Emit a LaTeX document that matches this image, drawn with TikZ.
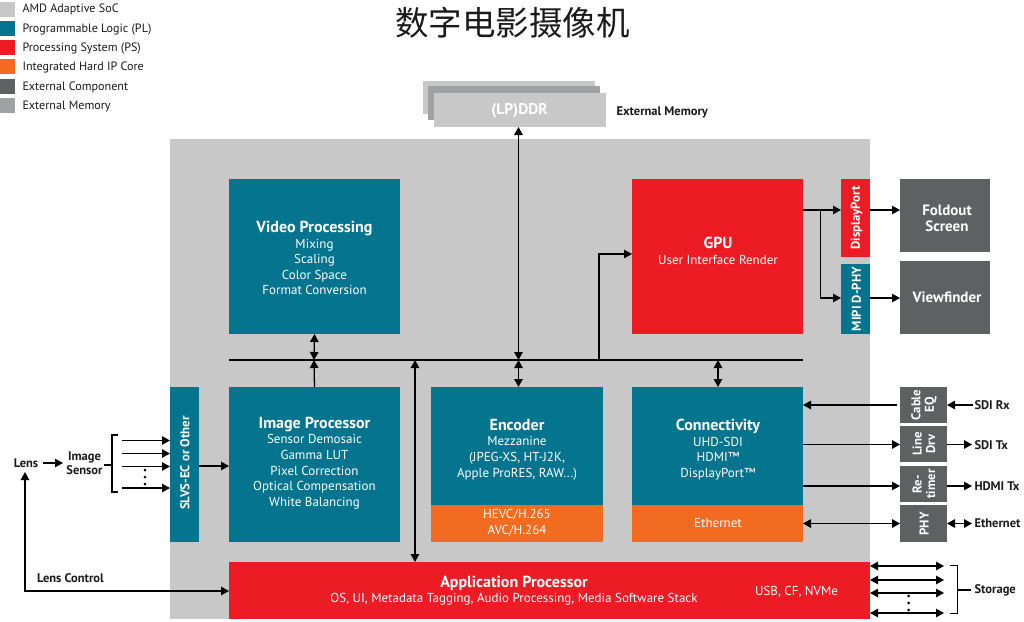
\documentclass[tikz,border=0pt]{standalone}
\usepackage{fontspec}
\setmainfont{PT Sans}
\newfontfamily\cjk{Noto Sans CJK SC}
\usetikzlibrary{arrows.meta}
\definecolor{socgray}{HTML}{C8C8C8}
\definecolor{plteal}{HTML}{05748F}
\definecolor{psred}{HTML}{ED1C24}
\definecolor{iporange}{HTML}{F26B21}
\definecolor{extdark}{HTML}{5F6062}
\definecolor{extmem}{HTML}{A0A1A3}
\definecolor{inktext}{HTML}{1A1A1A}
\tikzset{
  blk/.style={inner sep=0pt,outer sep=0pt,text=white,align=center,font=\fontsize{13}{15.6}\selectfont},
  lbl/.style={inner sep=0pt,outer sep=0pt,text=inktext,font=\fontsize{12.5}{13.5}\selectfont\bfseries,align=center},
  leg/.style={inner sep=0pt,outer sep=0pt,text=inktext,anchor=west,font=\fontsize{12.1}{14}\selectfont},
  sw/.style={inner sep=0pt,outer sep=0pt,minimum width=15pt,minimum height=15pt},
  vert/.style={rotate=90,font=\fontsize{12.8}{13.5}\selectfont\bfseries,text=white,align=center,inner sep=0pt},
  conn/.style={line width=1.3pt,draw=black,-{Triangle[length=8pt,width=8.5pt]}},
  bi/.style={line width=1.3pt,draw=black,{Triangle[length=8pt,width=8.5pt]}-{Triangle[length=8pt,width=8.5pt]}},
  wire/.style={line width=1.3pt,draw=black},
}
\newcommand{\blkbox}[7][]{\node[blk,fill=#6,minimum width={(#4-#2)*1pt},minimum height={(#5-#3)*1pt},#1] (#7) at ({(#2+#4)/2},{(#3+#5)/2}) {};}
\begin{document}
\begin{tikzpicture}[x=1pt,y=-1pt]
\useasboundingbox (0,0) rectangle (1024,621);
% legend
\foreach \n/\c/\t/\y/\ty in {a/socgray/AMD Adaptive SoC/9/9.5,b/plteal/Programmable Logic (PL)/28.5/29.5,c/psred/Processing System (PS)/47.5/48.5,d/iporange/Integrated Hard IP Core/66.5/67.5,e/extdark/External Component/86/87,f/extmem/External Memory/105/106.5}{
  \node[sw,fill=\c] (sw\n) at (7,\y) {};
  \node[leg] (lg\n) at (22.5,\ty) {\t};
}
\node[inner sep=0pt,text=inktext] (title) at (512.5,23) {\cjk\fontsize{33.5}{36}\selectfont 数字电影摄像机};
% SoC
\blkbox{170}{139}{870}{619}{socgray}{soc}
% memory
\blkbox{423}{81}{595}{114}{socgray}{mem3}
\blkbox{428}{86}{600}{120}{extmem}{mem2}
\blkbox{434}{93}{606}{127}{socgray}{ddr}
\node[font=\fontsize{15.5}{16}\selectfont\bfseries,text=white,inner sep=0pt] (ddrt) at (519.5,111) {(LP)DDR};
\node[lbl,anchor=west] (extm) at (616.5,112) {External Memory};
% blocks
\blkbox{229}{179}{400}{334}{plteal}{vp}
\node[blk] (vpt) at (314.5,258) {{\fontsize{16}{20}\selectfont\bfseries Video Processing}\\Mixing\\Scaling\\Color Space\\Format Conversion};
\blkbox{632}{179}{803}{334}{psred}{gpu}
\node[blk] (gput) at (718,251) {{\fontsize{16}{18}\selectfont\bfseries GPU}\\User Interface Render};
\blkbox{841}{179}{870}{257}{psred}{dp}
\node[vert] (dpt) at (856.5,218) {DisplayPort};
\blkbox{841}{264}{870}{334}{plteal}{mipi}
\node[vert] (mipit) at (856.5,299) {MIPI D-PHY};
\blkbox{900}{179}{990}{252}{extdark}{fold}
\node[blk,font=\fontsize{15}{16}\selectfont\bfseries] (foldt) at (947,218) {Foldout\\Screen};
\blkbox{900}{261}{990}{334}{extdark}{view}
\node[blk,font=\fontsize{15}{16}\selectfont\bfseries] (viewt) at (947,297) {Viewfinder};
\blkbox{170}{387}{199}{542}{plteal}{slvs}
\node[vert] (slvst) at (185,463) {SLVS-EC or Other};
\blkbox{229}{387}{400}{542}{plteal}{ip}
\node[blk] (ipt) at (314.5,463) {{\fontsize{16}{20}\selectfont\bfseries Image Processor}\\Sensor Demosaic\\Gamma LUT\\Pixel Correction\\Optical Compensation\\White Balancing};
\blkbox{431}{387}{603}{505}{plteal}{enc}
\node[blk] (enct) at (517,449.5) {{\fontsize{16}{20}\selectfont\bfseries Encoder}\\Mezzanine\\(JPEG-XS, HT-J2K,\\Apple ProRES, RAW...)};
\blkbox{431}{505}{603}{542}{iporange}{hevc}
\node[blk] (hevct) at (517,523) {HEVC/H.265\\AVC/H.264};
\blkbox{632}{387}{803}{505}{plteal}{con}
\node[blk] (cont) at (718,449.5) {{\fontsize{16}{20}\selectfont\bfseries Connectivity}\\UHD-SDI\\HDMI™\\DisplayPort™};
\blkbox{632}{505}{803}{542}{iporange}{eth}
\node[blk] (etht) at (718,523) {Ethernet};
\blkbox{229}{562}{870}{619}{psred}{app}
\node[blk] (appt) at (514,590.5) {{\fontsize{16}{18}\selectfont\bfseries Application Processor}\\OS, UI, Metadata Tagging, Audio Processing, Media Software Stack};
\node[blk,anchor=east] (usb) at (838,592) {USB, CF, NVMe};
% side boxes
\blkbox{900}{387}{947}{423}{extdark}{ceq}
\node[vert] (ceqt) at (924,405) {Cable\\EQ};
\blkbox{900}{426}{947}{462}{extdark}{drv}
\node[vert] (drvt) at (924,444) {Line\\Drv};
\blkbox{900}{466}{947}{502}{extdark}{ret}
\node[vert] (rett) at (924,484) {Re-\\timer};
\blkbox{900}{505}{947}{542}{extdark}{phy}
\node[vert] (phyt) at (924,524) {PHY};
% right labels
\node[lbl,anchor=west] (sdirx) at (974.5,405) {SDI Rx};
\node[lbl,anchor=west] (sditx) at (974.5,445) {SDI Tx};
\node[lbl,anchor=west] (hdmi) at (974.5,486) {HDMI Tx};
\node[lbl,anchor=west] (ether) at (974.5,523) {Ethernet};
\node[lbl,anchor=west] (stor) at (974.5,590) {Storage};
% left labels
\node[lbl] (lens) at (26,463) {Lens};
\node[lbl] (sensor) at (84.5,463) {Image\\Sensor};
\node[lbl,anchor=west] (lc) at (37,578) {Lens Control};
% coordinates
\coordinate (busL) at (229,360);
\coordinate (busR) at (803,360);
\draw[wire] (busL) -- (busR);
\coordinate (bvp) at (314,360);
\draw[bi] (vp.south) -- (bvp);
\draw[conn] (ip.north) -- (bvp);
\coordinate (b415) at (415,360);
\coordinate (a415) at (415,562);
\draw[bi] (b415) -- (a415);
\coordinate (b518) at (518.5,360);
\coordinate (d518) at (518.5,127);
\coordinate (e518) at (518.5,387);
\draw[bi] (d518) -- (b518);
\draw[bi] (b518) -- (e518);
\coordinate (b718) at (718,360);
\coordinate (c718) at (718,387);
\draw[bi] (b718) -- (c718);
\coordinate (b599) at (599,360);
\coordinate (g599) at (632,254);
\draw[conn] (b599) |- (g599);
% gpu outputs
\coordinate (gout) at (803,210);
\coordinate (dpin) at (841,210);
\coordinate (mipiin) at (841,298);
\coordinate (branch) at (820.5,210);
\draw[conn] (gout) -- (dpin);
\draw[conn] (branch) |- (mipiin);
\coordinate (dpout) at (870,210);
\coordinate (fin) at (900,210);
\draw[conn] (dpout) -- (fin);
\coordinate (mout) at (870,298);
\coordinate (vin) at (900,298);
\draw[conn] (mout) -- (vin);
% right IO
\coordinate (c405) at (803,405);
\coordinate (q405) at (897,405);
\draw[conn] (q405) -- (c405);
\coordinate (r405) at (973,405);
\draw[conn] (r405) -- (ceq.east |- r405);
\coordinate (c445) at (803,444.5);
\coordinate (q445) at (900,444.5);
\coordinate (r445) at (972,444.5);
\draw[conn] (c445) -- (q445);
\draw[conn] (drv.east |- c445) -- (r445);
\coordinate (c486) at (803,486);
\coordinate (q486) at (900,486);
\coordinate (r486) at (972,486);
\draw[conn] (c486) -- (q486);
\draw[conn] (ret.east |- c486) -- (r486);
\coordinate (e523) at (803,523.5);
\coordinate (p523) at (900,523.5);
\coordinate (r523) at (972,523.5);
\draw[bi] (e523) -- (p523);
\draw[bi] (phy.east |- e523) -- (r523);
% storage
\foreach \y in {566,580,593,613}{
  \coordinate (sa\y) at (870,\y);
  \coordinate (sb\y) at (944,\y);
  \draw[bi] (sa\y) -- (sb\y);
}
\foreach \y in {596,603,610}{\fill (908.5,\y) circle (1.5pt);}
\coordinate (st1) at (950,565.5);
\coordinate (st2) at (957.5,565.5);
\coordinate (st3) at (957.5,613.5);
\coordinate (st4) at (950,613.5);
\coordinate (st5) at (957.5,590);
\coordinate (st6) at (971,590);
\draw[wire] (st1) -- (st2) -- (st3) -- (st4);
\draw[wire] (st5) -- (st6);
% left
\coordinate (s1) at (122,440.5);
\coordinate (s2) at (122,453.5);
\coordinate (s3) at (122,466.5);
\coordinate (s4) at (122,488);
\foreach \c in {s1,s2,s3,s4}{\draw[conn] (\c) -- (slvs.west |- \c);}
\foreach \y in {470,477,484}{\fill (145,\y) circle (1.5pt);}
\coordinate (br1) at (118,435);
\coordinate (br2) at (112,435);
\coordinate (br3) at (112,492);
\coordinate (br4) at (118,492);
\coordinate (br5) at (112,465);
\coordinate (br6) at (104,465);
\draw[wire] (br1) -- (br2) -- (br3) -- (br4);
\draw[wire] (br6) -- (br5);
\coordinate (l1) at (43,463);
\coordinate (l2) at (63,463);
\draw[conn] (l1) -- (l2);
\coordinate (sl) at (199,466);
\draw[conn] (sl) -- (ip.west |- sl);
\coordinate (lc2) at (229,591);
\coordinate (lnb) at (25,472);
\draw[bi] (lnb) |- (lc2);
\end{tikzpicture}
\end{document}
